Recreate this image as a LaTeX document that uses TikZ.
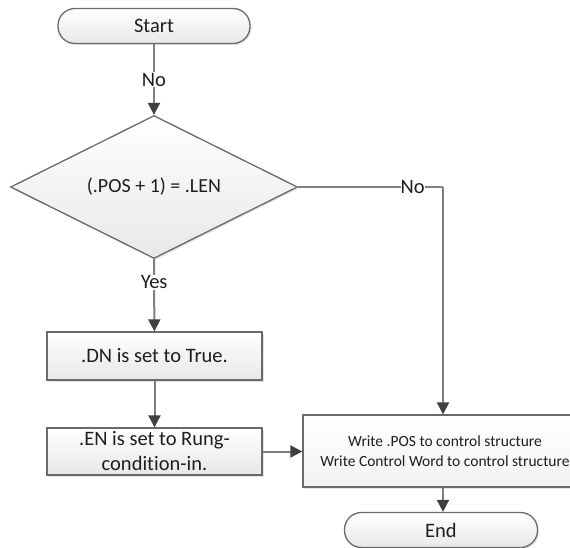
\documentclass[tikz,border=0pt]{standalone}
\usepackage{fontspec}
\setmainfont[Ligatures=CommonOff]{Carlito}
\usetikzlibrary{shapes.geometric,arrows.meta,shadows}
\definecolor{lineg}{HTML}{7F7F7F}
\definecolor{edgeg}{HTML}{6A6A6A}
\definecolor{tipg}{HTML}{404040}
\definecolor{txt}{HTML}{1E1E1E}
\tikzset{
  base/.style={draw=edgeg, line width=1.3pt, text=txt, top color=white, bottom color=black!9,
    drop shadow={shadow xshift=1.5pt, shadow yshift=-1.5pt, fill=black!18, opacity=0.6},
    inner sep=0pt, font=\fontsize{20.5}{25}\selectfont, align=center},
  term/.style={base, rounded corners=17pt, minimum height=35pt},
  proc/.style={base, rectangle},
  decis/.style={base, diamond, aspect=2, inner sep=0pt},
  conn/.style={draw=lineg, line width=2pt, -{Triangle[length=12pt,width=12pt,fill=tipg,color=tipg]}},
  conno/.style={draw=lineg, line width=2pt},
  lbl/.style={fill=white, inner sep=1pt, text=txt, font=\fontsize{20.5}{25}\selectfont}
}
\begin{document}
\begin{tikzpicture}[x=1pt,y=-1pt]
\useasboundingbox (0,0) rectangle (570,548);
\node[term, minimum width=192pt] (start) at (154,26) {Start};
\node[decis, minimum width=287pt, minimum height=143pt, font=\fontsize{20}{24}\selectfont] (dec) at (154,187) {(.POS + 1) = .LEN};
\node[proc, minimum width=215pt, minimum height=48pt] (dn) at (154.5,356) {.DN is set to True.};
\node[proc, minimum width=215pt, minimum height=47pt] (en) at (154.5,451.5) {.EN is set to Rung-\\condition-in.};
\node[proc, minimum width=284pt, minimum height=72pt, font=\fontsize{15.5}{20}\selectfont, top color=white, bottom color=black!5] (wr) at (445,451) {Write .POS to control structure\\Write Control Word to control structure};
\node[term, minimum width=193pt] (end) at (441,530) {End};
\coordinate (corner) at (443,187);
\draw[conn] (start) -- node[lbl, pos=0.5]{No} (dec);
\draw[conn] (dec.south) -- node[lbl, pos=0.32]{Yes} (dn);
\draw[conn] (dn) -- (en);
\draw[conn] (en.east) -- (wr.west |- en.east);
\draw[conno] (dec.east) -- node[lbl, pos=0.79, inner sep=0pt]{No} (corner);
\draw[conn] (corner) -- (corner |- wr.north);
\draw[conn] (wr.south -| corner) -- (end.north -| corner);
\end{tikzpicture}
\end{document}
